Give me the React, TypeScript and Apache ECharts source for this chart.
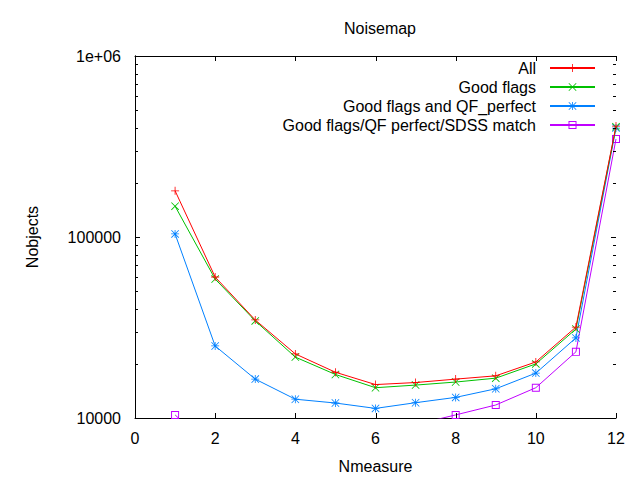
import React, { useEffect, useRef } from "react";
import * as echarts from "echarts";

const nmeasure = [1, 2, 3, 4, 5, 6, 7, 8, 9, 10, 11, 12];
const allValues = [180000, 60100, 34800, 22600, 17900, 15300, 15700, 16400, 17100, 20400, 31800, 410000];
const goodFlags = [148000, 58600, 34400, 21700, 17400, 14700, 15200, 15800, 16600, 19900, 31000, 406000];
const goodQF = [104000, 25000, 16400, 12700, 12100, 11300, 12150, 13000, 14500, 17700, 27700, 400000];
const goodQFSdss = [10400, 6500, 7500, 8200, 8500, 8700, 9200, 10400, 11800, 14700, 23200, 348000];

const seriesNames = ["All", "Good flags", "Good flags and QF_perfect", "Good flags/QF perfect/SDSS match"];
const seriesColors = ["#ff0000", "#00c000", "#0080ff", "#c000ff"];
const yMajor = [10000, 100000, 1000000];
const yMinor = [20000, 30000, 40000, 50000, 60000, 70000, 80000, 90000, 200000, 300000, 400000, 500000, 600000, 700000, 800000, 900000];
const xMajor = [0, 2, 4, 6, 8, 10, 12];
const xEdges = [0, 12];
const yEdges = [10000, 1000000];

const PLUS = "path://M4.5,0 H5.5 V10 H4.5 Z M0,4.5 H10 V5.5 H0 Z";
const CROSS = "path://M0,0.7 L0.7,0 L10,9.3 L9.3,10 Z M9.3,0 L10,0.7 L0.7,10 L0,9.3 Z";
const STAR = "path://M4.5,0 H5.5 V10 H4.5 Z M0,4.5 H10 V5.5 H0 Z M0,0.7 L0.7,0 L10,9.3 L9.3,10 Z M9.3,0 L10,0.7 L0.7,10 L0,9.3 Z";
const SQUARE = "path://M0,0 H10 V10 H0 Z M1.2,1.2 V8.8 H8.8 V1.2 Z";
const symbols = [PLUS, CROSS, STAR, SQUARE];

const FONT = "Liberation Sans";
const FS = 16;
const MAJOR_LEN = 5;
const MINOR_LEN = 3;

export default function App() {
  const ref = useRef<HTMLDivElement>(null);
  useEffect(() => {
    const chart = echarts.init(ref.current!, null, { renderer: "svg" });
    const datasets = [allValues, goodFlags, goodQF, goodQFSdss];
    const tickStyle = { stroke: "#000", lineWidth: 1, fill: null };
    const yTickData = [
      ...yMajor.map((v) => [0, v, MAJOR_LEN]),
      ...yMinor.map((v) => [0, v, MINOR_LEN]),
    ];
    const option: any = {
      animation: false,
      backgroundColor: "#fff",
      textStyle: { fontFamily: FONT },
      title: {
        text: "Noisemap",
        left: 375,
        top: 15,
        textAlign: "center",
        textStyle: { color: "#000", fontSize: FS, fontWeight: "normal", fontFamily: FONT },
      },
      grid: { left: 135, right: 24, top: 56, bottom: 62 },
      legend: {
        orient: "vertical",
        right: 39,
        top: 55,
        align: "right",
        itemWidth: 45,
        itemHeight: 10,
        itemGap: 3,
        selectedMode: false,
        textStyle: { color: "#000", fontSize: FS, fontFamily: FONT, padding: [0, 9, 0, 0], lineHeight: 16 },
        data: seriesNames,
      },
      xAxis: [
        {
          type: "value",
          min: 0,
          max: 12,
          interval: 2,
          position: "bottom",
          name: "Nmeasure",
          nameLocation: "middle",
          nameGap: 40,
          nameTextStyle: { color: "#000", fontSize: FS, fontFamily: FONT },
          splitLine: { show: false },
          axisLine: { show: true, lineStyle: { color: "#000", width: 1 } },
          axisTick: { show: false },
          axisLabel: { color: "#000", fontSize: FS, fontFamily: FONT, margin: 12 },
        },
        {
          type: "value",
          min: 0,
          max: 12,
          interval: 2,
          position: "top",
          splitLine: { show: false },
          axisLine: { show: true, lineStyle: { color: "#000", width: 1 } },
          axisTick: { show: false },
          axisLabel: { show: false },
        },
      ],
      yAxis: [
        {
          type: "log",
          logBase: 10,
          min: 10000,
          max: 1000000,
          position: "left",
          name: "Nobjects",
          nameLocation: "middle",
          nameGap: 95,
          nameTextStyle: { color: "#000", fontSize: FS, fontFamily: FONT },
          splitLine: { show: false },
          axisLine: { show: true, lineStyle: { color: "#000", width: 1 } },
          axisTick: { show: false },
          axisLabel: {
            color: "#000",
            fontSize: FS,
            fontFamily: FONT,
            margin: 14,
            formatter: (v: number) => (v >= 1000000 ? "1e+06" : String(Math.round(v))),
          },
        },
        {
          type: "log",
          logBase: 10,
          min: 10000,
          max: 1000000,
          position: "right",
          splitLine: { show: false },
          axisLine: { show: true, lineStyle: { color: "#000", width: 1 } },
          axisTick: { show: false },
          axisLabel: { show: false },
        },
      ],
      series: [
        ...seriesNames.map((name, i) => ({
          name,
          type: "line",
          xAxisIndex: 0,
          yAxisIndex: 0,
          clip: true,
          data: nmeasure.map((x, j) => [x, datasets[i][j]]),
          symbol: symbols[i],
          symbolSize: 8,
          showAllSymbol: true,
          color: seriesColors[i],
          lineStyle: { color: seriesColors[i], width: 1 },
          itemStyle: { color: seriesColors[i] },
          emphasis: { disabled: true },
          z: 2 + (3 - i),
        })),
        {
          name: "yTicks",
          type: "custom",
          xAxisIndex: 0,
          yAxisIndex: 0,
          silent: true,
          clip: false,
          z: 10,
          encode: { x: 0, y: 1 },
          data: yTickData,
          renderItem: (params: any, api: any) => {
            const v = api.value(1);
            const len = api.value(2);
            const left = api.coord([xEdges[0], v]);
            const right = api.coord([xEdges[1], v]);
            const ly = Math.round(left[1]) + 0.5;
            return {
              type: "group",
              children: [
                { type: "polyline", shape: { points: [[left[0], ly], [left[0] + len, ly]] }, style: tickStyle },
                { type: "polyline", shape: { points: [[right[0], ly], [right[0] - len, ly]] }, style: tickStyle },
              ],
            };
          },
        },
        {
          name: "xTicks",
          type: "custom",
          xAxisIndex: 0,
          yAxisIndex: 0,
          silent: true,
          clip: false,
          z: 10,
          encode: { x: 0, y: 1 },
          data: xMajor.map((v) => [v, yEdges[0]]),
          renderItem: (params: any, api: any) => {
            const v = api.value(0);
            const bottom = api.coord([v, yEdges[0]]);
            const top = api.coord([v, yEdges[1]]);
            const lx = Math.round(bottom[0]) + 0.5;
            return {
              type: "group",
              children: [
                { type: "polyline", shape: { points: [[lx, bottom[1]], [lx, bottom[1] - MAJOR_LEN]] }, style: tickStyle },
                { type: "polyline", shape: { points: [[lx, top[1]], [lx, top[1] + MAJOR_LEN]] }, style: tickStyle },
              ],
            };
          },
        },
      ],
    };
    chart.setOption(option);
    return () => chart.dispose();
  }, []);
  return (
    <div
      ref={ref}
      style={{ position: "fixed", left: 0, top: 0, width: 640, height: 480, background: "#fff" }}
    />
  );
}
